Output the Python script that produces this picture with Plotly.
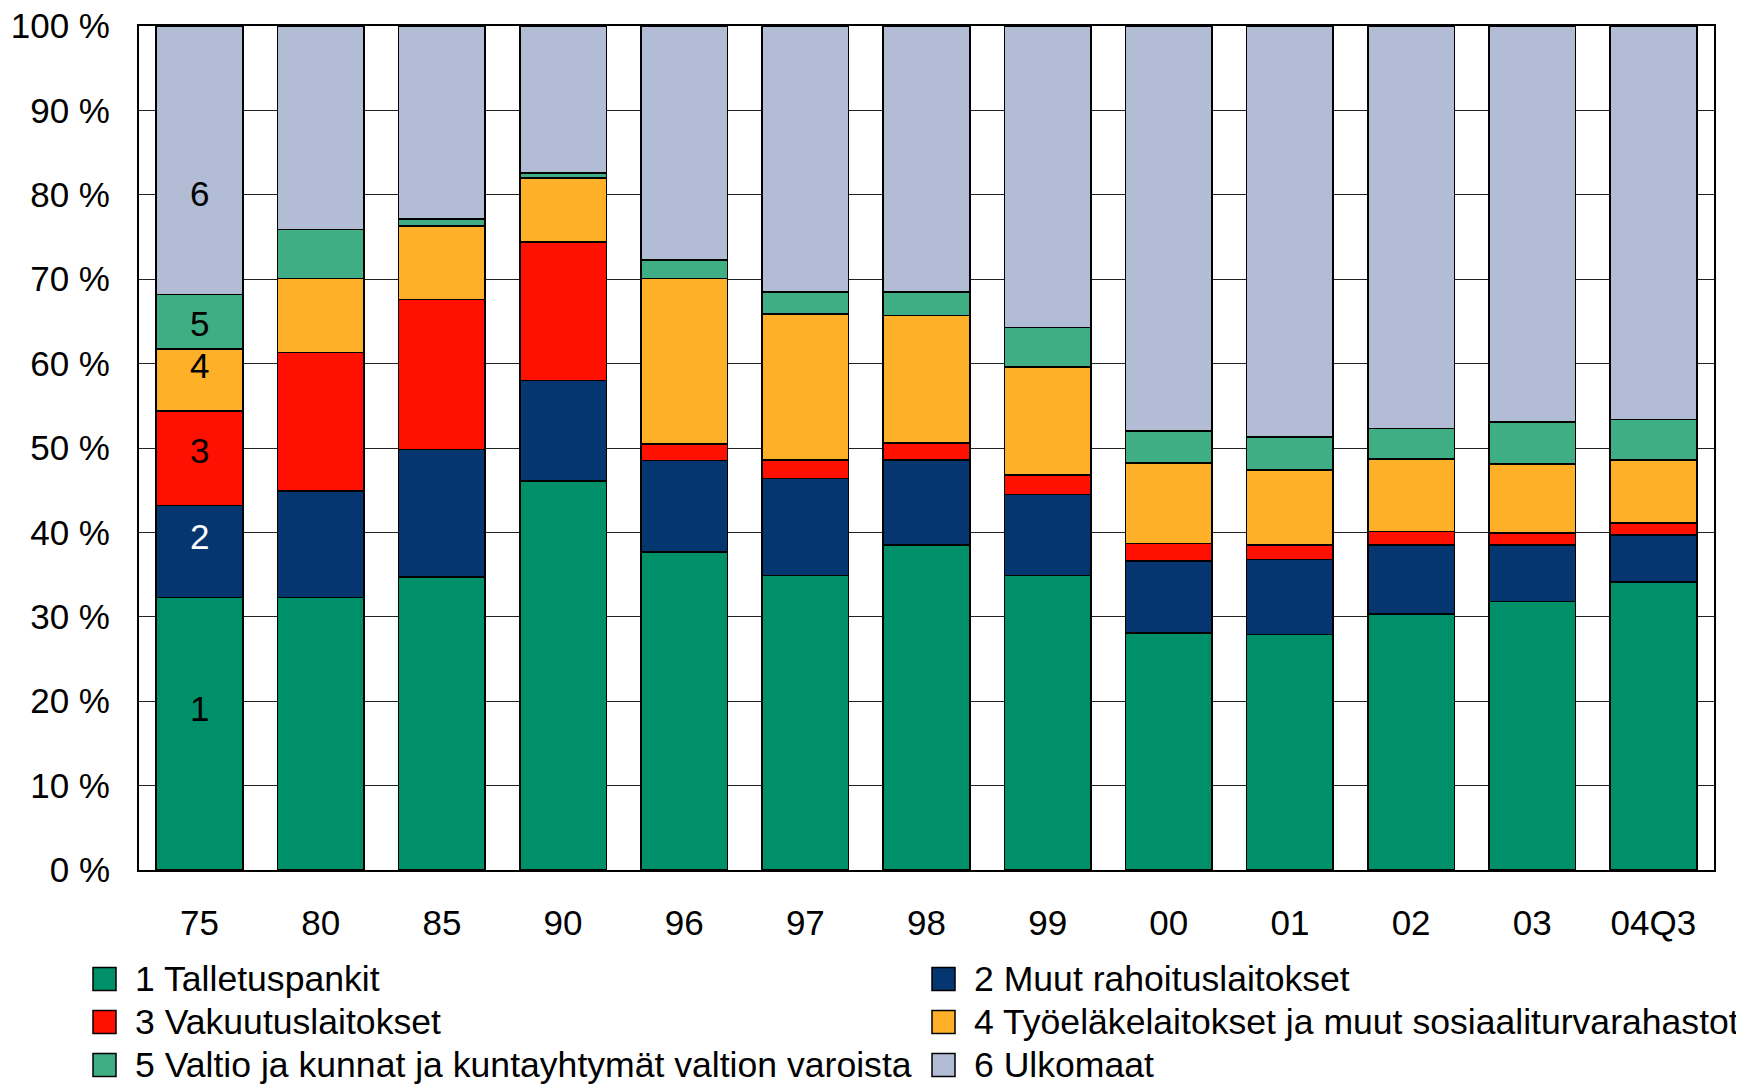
import plotly.graph_objects as go

# Vuodet / ajankohdat
kaudet = ["75", "80", "85", "90", "96", "97", "98", "99", "00", "01", "02", "03", "04Q3"]

# Osuudet (%), luettu kuvasta
talletuspankit = [32.3, 32.3, 34.7, 46.1, 37.7, 34.9, 38.5, 34.9, 28.1, 27.9, 30.3, 31.8, 34.1]
muut_rahoitus = [10.9, 12.6, 15.1, 11.9, 10.8, 11.5, 10.1, 9.6, 8.5, 8.9, 8.2, 6.7, 5.6]
vakuutus = [11.2, 16.4, 17.8, 16.4, 2.0, 2.2, 2.0, 2.3, 2.1, 1.7, 1.6, 1.4, 1.4]
tyoelake = [7.3, 8.8, 8.7, 7.6, 19.6, 17.3, 15.1, 12.8, 9.5, 8.9, 8.6, 8.2, 7.5]
valtio = [6.5, 5.8, 0.8, 0.6, 2.2, 2.6, 2.8, 4.7, 3.8, 3.9, 3.6, 5.0, 4.8]
ulkomaat = [31.8, 24.1, 22.9, 17.4, 27.7, 31.5, 31.5, 35.7, 48.0, 48.7, 47.7, 46.9, 46.6]

nimet = [
    "1 Talletuspankit",
    "2 Muut rahoituslaitokset",
    "3 Vakuutuslaitokset",
    "4 Työeläkelaitokset ja muut sosiaaliturvarahastot",
    "5 Valtio ja kunnat ja kuntayhtymät valtion varoista",
    "6 Ulkomaat",
]
sarjat = [talletuspankit, muut_rahoitus, vakuutus, tyoelake, valtio, ulkomaat]
varit = ["#009069", "#06366F", "#FF1000", "#FDB028", "#40AE84", "#B2BCD5"]

# Numeromerkinnät ensimmäisessä pylväässä
merkit = ["1", "2", "3", "4", "5", "6"]
merkit_y = [19.1, 39.5, 49.7, 59.8, 64.8, 80.1]
merkit_vari = ["black", "white", "black", "black", "black", "black"]

FONTTI = "Liberation Sans, Arial, sans-serif"
KOKO = 35
SELITE_KOKO = 35.6
# sivun oletusmarginaali (8 px) huomioitu
W, H = 1736, 1076
L, R, T, B = 131, 30, 18, 214

fig = go.Figure()

for nimi, arvot, vari in zip(nimet, sarjat, varit):
    fig.add_trace(go.Bar(
        x=kaudet,
        y=arvot,
        name=nimi,
        marker=dict(color=vari, line=dict(color="black", width=1.6)),
        showlegend=False,
    ))

# x=0 = ensimmäinen luokka (kategoria-akselin indeksi)
for m, y, c in zip(merkit, merkit_y, merkit_vari):
    fig.add_annotation(x=0, y=y, text=m, showarrow=False,
                       font=dict(size=KOKO, color=c, family=FONTTI))

# Selite käsin, kaksi saraketta
def px_x(p):
    return (p - L) / (W - L - R)

def px_y(p):
    return (H - B - p) / (H - B - T)

sarake_x = [85, 924]
rivi_y = [971, 1014, 1057]
for i, (nimi, vari) in enumerate(zip(nimet, varit)):
    sx = sarake_x[i % 2]
    sy = rivi_y[i // 2]
    fig.add_shape(type="rect", xref="paper", yref="paper",
                  x0=px_x(sx), x1=px_x(sx + 23),
                  y0=px_y(sy + 11.5), y1=px_y(sy - 11.5),
                  fillcolor=vari, line=dict(color="black", width=1.5))
    fig.add_annotation(xref="paper", yref="paper", x=px_x(sx + 40), y=px_y(sy),
                       xanchor="left", yanchor="middle", text=nimi, showarrow=False,
                       font=dict(size=SELITE_KOKO, color="black", family=FONTTI))

fig.update_layout(
    barmode="stack",
    bargap=0.285,
    width=W,
    height=H,
    margin=dict(l=L, r=R, t=T, b=B, autoexpand=False),
    plot_bgcolor="white",
    paper_bgcolor="white",
    font=dict(family=FONTTI, size=KOKO, color="black"),
    showlegend=False,
)

fig.update_xaxes(
    type="category", automargin=False, tickangle=0, range=[-0.5, 12.5],
    showline=True, linecolor="black", linewidth=2, mirror=True,
    showgrid=False, ticks="", ticklabelstandoff=21,
    tickfont=dict(size=KOKO),
)
fig.update_yaxes(
    automargin=False,
    range=[0, 100], dtick=10, ticksuffix=" %",
    showline=True, linecolor="black", linewidth=2, mirror=True,
    showgrid=True, gridcolor="#222222", gridwidth=1,
    zeroline=False, ticks="", ticklabelstandoff=20,
    ticklabeloverflow="allow",
    tickfont=dict(size=KOKO),
)

fig.write_html("out.html")
